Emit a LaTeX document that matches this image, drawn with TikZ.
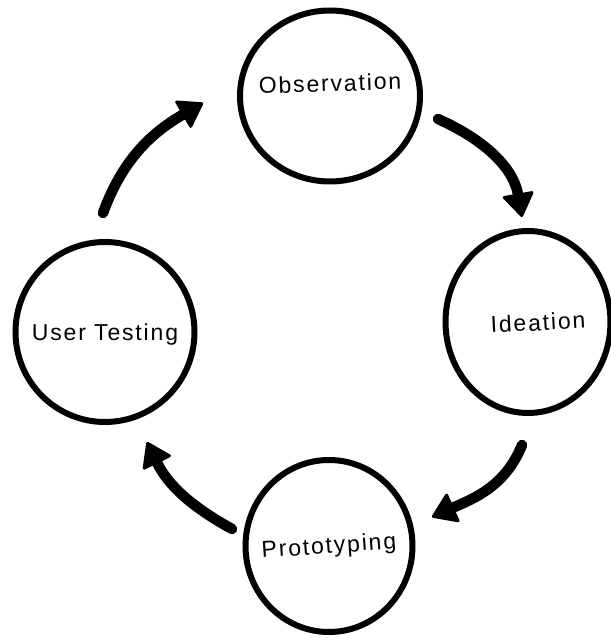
\documentclass[tikz,border=0pt]{standalone}
\usepackage{fontspec}
\setmainfont[LetterSpace=8]{Liberation Sans}
\usetikzlibrary{shapes.geometric,arrows.meta,calc}
\newcommand{\zw}[2]{\makebox[0pt]{\raisebox{#1}[0pt][0pt]{#2}}}
\begin{document}
\begin{tikzpicture}[x=1pt,y=1pt,
  blob/.style={draw, ellipse, line width=6pt, inner sep=0pt, font=\fontsize{23}{26}\selectfont},
  flow/.style={line width=10.5pt, line cap=round, -{Triangle[length=25pt,width=33pt,round,line width=3pt]}}]
\useasboundingbox (0,0) rectangle (611,638);
\fill[white] (0,0) rectangle (611,638);
\node[blob, minimum width=180pt, minimum height=171pt] (obs) at (330,542) {\zw{2pt}{\rotatebox{2}{Observation}}};
\node[blob, minimum width=165pt, minimum height=182pt] (ide) at (528,316) {\zw{-11pt}{\hspace*{20pt}\rotatebox{3}{Ideation}}};
\node[blob, minimum width=179pt, minimum height=180pt] (usr) at (105,306) {\zw{-9pt}{User Testing}};
\node[blob, minimum width=167pt, minimum height=172pt] (pro) at (329,92) {\zw{-12pt}{\rotatebox{4}{Prototyping}}};
\coordinate (a1s) at ($(obs.center)+(108,-23)$);
\coordinate (a1e) at ($(ide.center)+(-6,105)$);
\coordinate (a2s) at ($(ide.center)+(-6,-123)$);
\coordinate (a2e) at ($(pro.center)+(103,29)$);
\coordinate (a3s) at ($(pro.center)+(-97,17)$);
\coordinate (a3e) at ($(usr.center)+(42,-110)$);
\coordinate (a4s) at ($(usr.center)+(-2,119)$);
\coordinate (a4e) at ($(obs.center)+(-127,-7)$);
\draw[flow] (a1s) to[out=-24,in=100] (a1e);
\draw[flow] (a2s) to[out=-112,in=24] (a2e);
\draw[flow] (a3s) to[out=151,in=-64] (a3e);
\draw[flow] (a4s) to[out=70,in=-150] (a4e);
\end{tikzpicture}
\end{document}
